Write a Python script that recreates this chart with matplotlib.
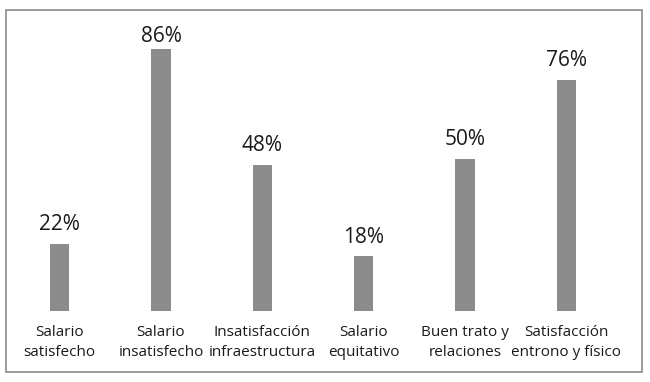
import matplotlib.pyplot as plt
from matplotlib.patches import Rectangle

categories = ["Salario\nsatisfecho", "Salario\ninsatisfecho", "Insatisfacción\ninfraestructura",
              "Salario\nequitativo", "Buen trato y\nrelaciones", "Satisfacción\nentrono y físico"]
values = [22, 86, 48, 18, 50, 76]

plt.rcParams['font.family'] = ['Open Sans', 'DejaVu Sans']

fig = plt.figure(figsize=(6.5, 3.82), dpi=100)
ax = fig.add_axes([9.05 / 650, 71.3 / 382, 607.8 / 650, 304 / 382])

x = range(len(values))
bars = ax.bar(x, values, width=0.19, color='#8c8c8c')
ax.set_xlim(-0.5, 5.5)
ax.set_ylim(0, 100)

# labels sit a bit above the bar, but never above the plot area
for b, v in zip(bars, values):
    ax.text(b.get_x() + b.get_width() / 2, min(v + 4.4, 88.4), f"{v}%",
            ha='center', va='baseline', fontsize=15, color='#1a1a1a')

ax.set_xticks(list(x))
ax.set_xticklabels(categories, fontsize=11, color='#1a1a1a', linespacing=1.5)
ax.tick_params(axis='x', length=0, pad=10)
ax.set_yticks([])
for s in ax.spines.values():
    s.set_visible(False)

fig.patches.append(Rectangle((6 / 650, 10.5 / 382), 635.5 / 650, 362 / 382,
                             transform=fig.transFigure, fill=False,
                             edgecolor='#8a8a8a', linewidth=1.2))

fig.savefig("out.png", dpi=100)
